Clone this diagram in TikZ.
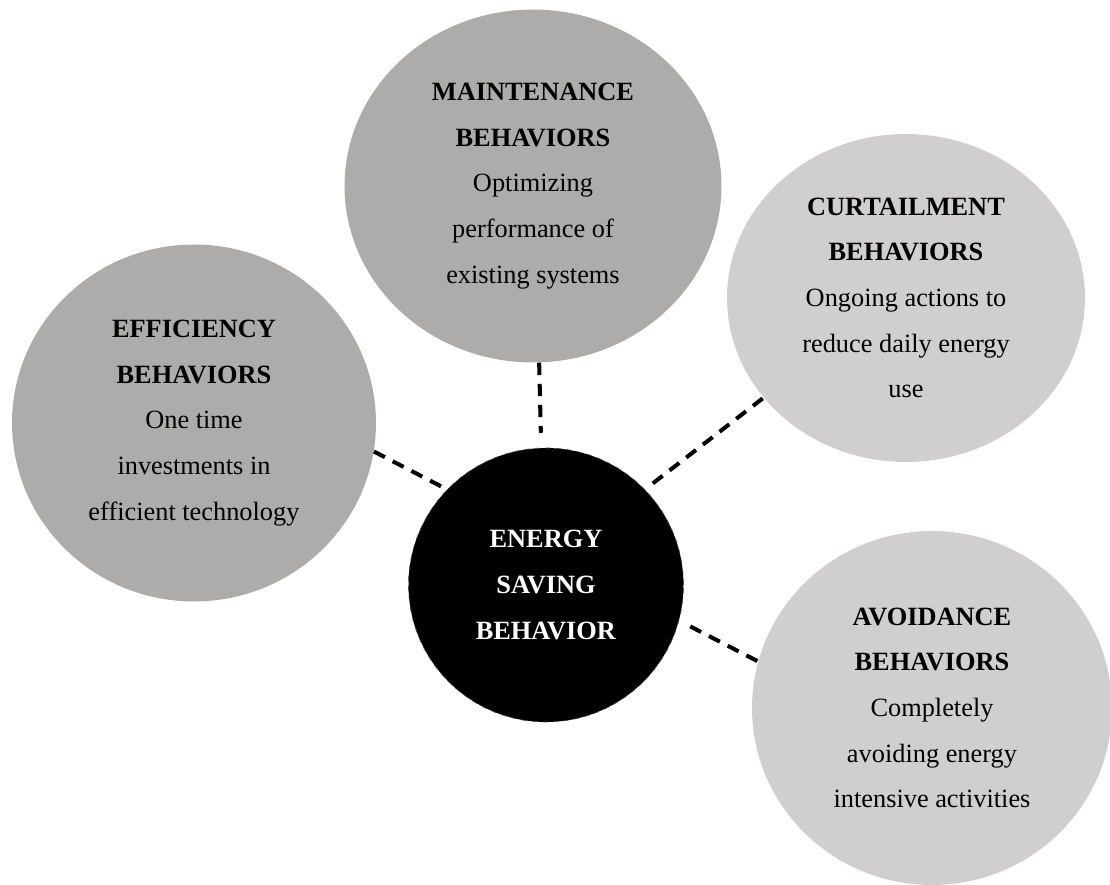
\documentclass[tikz,border=0pt]{standalone}
\usepackage{fontspec}
\setmainfont{Liberation Serif}
\usetikzlibrary{shapes.geometric}
\definecolor{darkgrey}{HTML}{AEABAB}
\definecolor{lightgrey}{HTML}{D0CECE}

\begin{document}
\begin{tikzpicture}[x=0.02cm,y=-0.02cm,bubble/.style={ellipse,inner sep=0pt,align=center,font=\fontsize{15}{26}\selectfont},link/.style={line width=2.3pt,dash pattern=on 7pt off 5pt}]
 \useasboundingbox (0,0) rectangle (1110,885);
 \node[bubble,fill=darkgrey,minimum width=7.54cm,minimum height=7.06cm] (maint) at (533,186) {\textbf{MAINTENANCE}\\\textbf{BEHAVIORS}\\Optimizing\\performance of\\existing systems};
 \node[bubble,fill=darkgrey,minimum width=7.28cm,minimum height=7.14cm] (eff) at (194,423) {\textbf{EFFICIENCY}\\\textbf{BEHAVIORS}\\One time\\investments in\\efficient technology};
 \node[bubble,fill=lightgrey,minimum width=7.16cm,minimum height=6.56cm] (curt) at (906,298) {\textbf{CURTAILMENT}\\\textbf{BEHAVIORS}\\Ongoing actions to\\reduce daily energy\\use};
 \node[bubble,fill=lightgrey,minimum width=7.2cm,minimum height=7.08cm] (avoid) at (932,708) {\textbf{AVOIDANCE}\\\textbf{BEHAVIORS}\\Completely\\avoiding energy\\intensive activities};
 \node[bubble,fill=black,draw=black!70,dashed,text=white,minimum width=5.5cm,minimum height=5.48cm] (energy) at (546,585) {\textbf{ENERGY}\\\textbf{SAVING}\\\textbf{BEHAVIOR}};
 % dashed spokes out of the centre
 \draw[link,shorten >=0.3cm] (maint.-88) -- (energy.92); \draw[link] (eff.-9) -- (energy.136);
 \draw[link,shorten <=0.2cm] (energy.44) -- (curt.-145); \draw[link,shorten <=0.25cm] (energy.-15) -- (avoid.165);
\end{tikzpicture}
\end{document}
